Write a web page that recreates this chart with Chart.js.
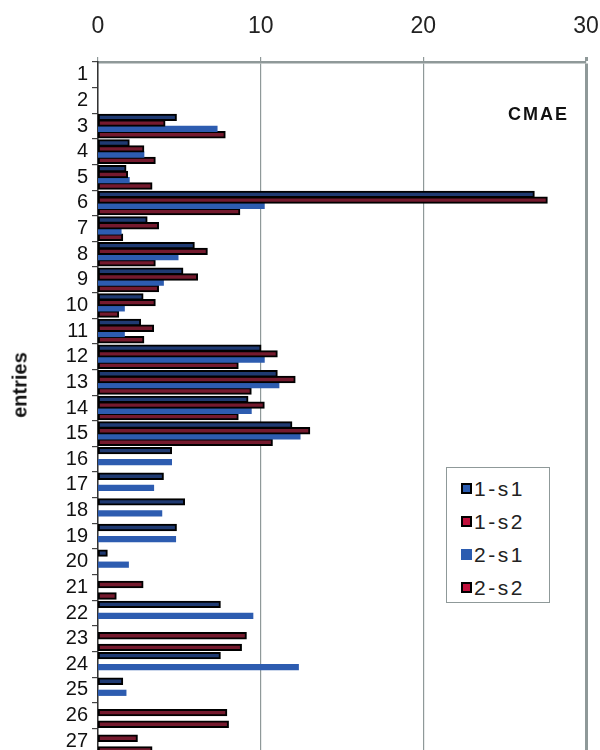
<!DOCTYPE html>
<html>
<head>
<meta charset="utf-8">
<script src="https://cdn.jsdelivr.net/npm/chart.js@4/dist/chart.umd.min.js"></script>
<style>
  html, body { margin: 0; padding: 0; background: #fff; overflow: hidden; }
  #wrap { position: relative; width: 600px; height: 760px; }
  #tag { position: absolute; left: 508px; top: 104px; font: bold 18px 'Liberation Sans', Arial, sans-serif;
         letter-spacing: 2px; color: #111; }
  #ytitle { position: absolute; left: 20px; top: 385px; transform: translate(-50%, -50%) rotate(-90deg);
            font: bold 20px 'Liberation Sans', Arial, sans-serif; color: #111; white-space: nowrap; }
  #legend { position: absolute; left: 446px; top: 467px; width: 104px; height: 136px; border: 1px solid #8f9999;
            box-sizing: border-box; background: #fff; padding-top: 4px; }
  .item { display: flex; align-items: center; height: 33px; padding-left: 14px;
          font: 21px 'Liberation Sans', Arial, sans-serif; letter-spacing: 2.5px; color: #222; }
  .sw { width: 11px; height: 11px; margin-right: 2px; box-sizing: border-box; }
</style>
</head>
<body>
<div id="wrap">
  <canvas id="chart" width="600" height="760"></canvas>
  <div id="tag">CMAE</div>
  <div id="ytitle">entries</div>
  <div id="legend"></div>
</div>
<script>
var categories = ['1','2','3','4','5','6','7','8','9','10','11','12','13','14','15','16','17','18','19','20','21','22','23','24','25','26','27'];
var seriesNames = ['1-s1', '1-s2', '2-s1', '2-s2'];
var xTicks = [0, 10, 20, 30];

var v1s1 = [null, null, 4.8, 1.9, 1.7, 26.8, 3.0, 5.9, 5.2, 2.75, 2.6, 10.0, 11.0, 9.2, 11.9, 4.5, 4.0, 5.3, 4.8, 0.55, null, 7.5, null, 7.5, 1.5, null, null];
var v1s2 = [null, null, 4.1, 2.8, 1.8, 27.6, 3.7, 6.7, 6.1, 3.5, 3.4, 11.0, 12.1, 10.2, 13.0, null, null, null, null, null, 2.75, null, 9.1, null, null, 7.9, 2.4];
var v2s1 = [null, null, 7.3, 2.8, 1.9, 10.2, 1.4, 4.9, 4.0, 1.6, 1.6, 10.2, 11.1, 9.4, 12.4, 4.5, 3.4, 3.9, 4.75, 1.85, null, 9.5, null, 12.3, 1.7, null, null];
var v2s2 = [null, null, 7.8, 3.5, 3.3, 8.7, 1.5, 3.5, 3.7, 1.25, 2.8, 8.6, 9.4, 8.6, 10.7, null, null, null, null, null, 1.1, null, 8.8, null, null, 8.0, 3.3];

var fills = ['#1f3a72', '#751a2e', '#2d5cb0', '#751a2e'];
var borders = ['#000', '#000', '#2d5cb0', '#000'];
var borderW = [2, 2, 0, 2];
var barPct = [1.0, 1.0, 0.8, 1.0];
var legendFills = ['#2b5cb0', '#c0103c', '#2b5cb0', '#c0103c'];

var font = "'Liberation Sans', Arial, sans-serif";
var values = [v1s1, v1s2, v2s1, v2s2];

var datasets = seriesNames.map(function(name, i) {
  return {
    label: name,
    data: values[i],
    backgroundColor: fills[i],
    borderColor: borders[i],
    borderWidth: borderW[i],
    borderSkipped: false,
    inflateAmount: 0.8,
    categoryPercentage: 0.9,
    barPercentage: barPct[i]
  };
});

var ctx = document.getElementById('chart').getContext('2d');
var chart = new Chart(ctx, {
  type: 'bar',
  data: { labels: categories, datasets: datasets },
  options: {
    indexAxis: 'y',
    responsive: false,
    animation: false,
    layout: { padding: { left: 0, right: 14, top: 0, bottom: 6 } },
    plugins: { legend: { display: false }, tooltip: { enabled: false } },
    scales: {
      x: {
        position: 'top',
        min: 0, max: 30,
        afterBuildTicks: function(axis) { axis.ticks = xTicks.map(function(v) { return { value: v }; }); },
        afterFit: function(axis) { axis.height = 62; axis.paddingLeft = 0; axis.paddingRight = 0; },
        ticks: { font: { family: font, size: 23 }, color: '#222', padding: 17 },
        grid: {
          color: '#8f9999',
          lineWidth: function(c) { return c.tick && c.tick.value === 30 ? 3 : 1.2; },
          tickLength: 5,
          tickColor: '#8f9999'
        },
        border: { color: '#8f9999', width: 2.5 }
      },
      y: {
        afterFit: function(axis) { axis.width = 98; axis.paddingTop = 0; axis.paddingBottom = 0; },
        ticks: { font: { family: font, size: 20 }, color: '#111', padding: 4, autoSkip: false },
        grid: { drawOnChartArea: false, tickLength: 6, tickColor: '#444', lineWidth: 1.2 },
        border: { color: '#333', width: 1.5 }
      }
    }
  }
});

// legend built from the chart's datasets
var leg = document.getElementById('legend');
chart.data.datasets.forEach(function(ds, i) {
  var row = document.createElement('div');
  row.className = 'item';
  var sw = document.createElement('span');
  sw.className = 'sw';
  sw.style.background = legendFills[i];
  sw.style.border = ds.borderWidth ? '2.5px solid #000' : 'none';
  row.appendChild(sw);
  row.appendChild(document.createTextNode(ds.label));
  leg.appendChild(row);
});
</script>
</body>
</html>
